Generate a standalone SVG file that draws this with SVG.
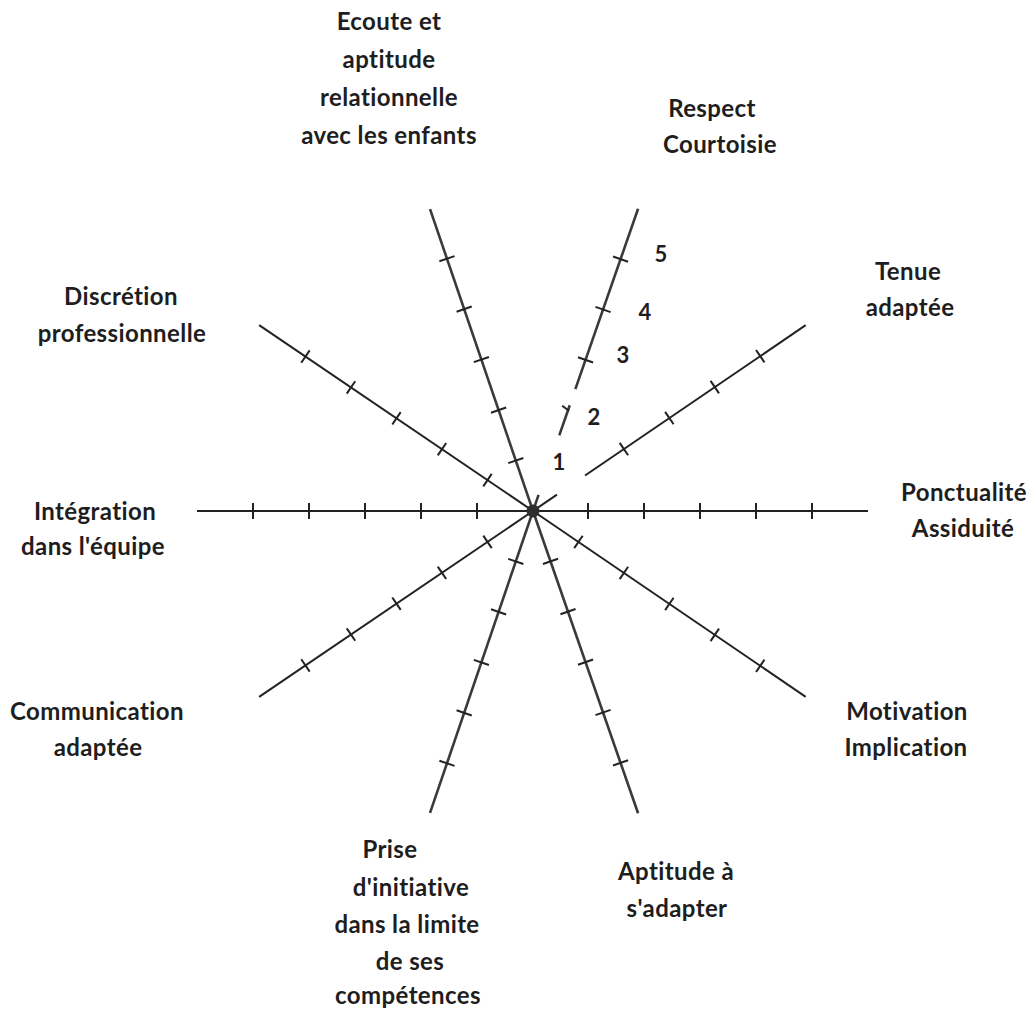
<svg xmlns="http://www.w3.org/2000/svg" width="1029" height="1009" viewBox="0 0 1029 1009">
<style>
  .lbl { font-family: Lato, "Liberation Sans", sans-serif; font-weight: 700; font-size: 24px; letter-spacing: 0.4px; fill: #1e1e1e; text-anchor: middle; }
  .num { font-family: Lato, "Liberation Sans", sans-serif; font-weight: 700; font-size: 22px; fill: #1e1e1e; text-anchor: middle; }
  .ax { stroke: #222; stroke-width: 2; fill: none; stroke-linecap: butt; }
  .st { stroke: #3a3a3a; stroke-width: 2.6; fill: none; }
  .tk { stroke: #222; stroke-width: 2; }
</style>
<rect width="1029" height="1009" fill="#ffffff"/>
<g id="connectors">
  <g id="axis-ponctualite" transform="translate(533,511)">
    <line class="ax" x1="0" y1="0" x2="335" y2="0"/>
    <line class="tk" x1="55" y1="-8" x2="55" y2="8"/>
    <line class="tk" x1="111" y1="-8" x2="111" y2="8"/>
    <line class="tk" x1="167" y1="-8" x2="167" y2="8"/>
    <line class="tk" x1="223" y1="-8" x2="223" y2="8"/>
    <line class="tk" x1="279" y1="-8" x2="279" y2="8"/>
  </g>
  <g id="axis-integration" transform="translate(533,511) rotate(180)">
    <line class="ax" x1="0" y1="0" x2="336" y2="0"/>
    <line class="tk" x1="56" y1="-8" x2="56" y2="8"/>
    <line class="tk" x1="112" y1="-8" x2="112" y2="8"/>
    <line class="tk" x1="168" y1="-8" x2="168" y2="8"/>
    <line class="tk" x1="224" y1="-8" x2="224" y2="8"/>
    <line class="tk" x1="280" y1="-8" x2="280" y2="8"/>
  </g>
  <g id="axis-discretion" transform="translate(533,511) rotate(214.17)">
    <line class="ax" x1="0" y1="0" x2="331" y2="0"/>
    <line class="tk" x1="55" y1="-7.5" x2="55" y2="7.5"/>
    <line class="tk" x1="110" y1="-7.5" x2="110" y2="7.5"/>
    <line class="tk" x1="165" y1="-7.5" x2="165" y2="7.5"/>
    <line class="tk" x1="220" y1="-7.5" x2="220" y2="7.5"/>
    <line class="tk" x1="275" y1="-7.5" x2="275" y2="7.5"/>
  </g>
  <g id="axis-communication" transform="translate(533,511) rotate(145.83)">
    <line class="ax" x1="0" y1="0" x2="331" y2="0"/>
    <line class="tk" x1="55" y1="-7.5" x2="55" y2="7.5"/>
    <line class="tk" x1="110" y1="-7.5" x2="110" y2="7.5"/>
    <line class="tk" x1="165" y1="-7.5" x2="165" y2="7.5"/>
    <line class="tk" x1="220" y1="-7.5" x2="220" y2="7.5"/>
    <line class="tk" x1="275" y1="-7.5" x2="275" y2="7.5"/>
  </g>
  <g id="axis-motivation" transform="translate(533,511) rotate(34.27)">
    <line class="ax" x1="0" y1="0" x2="330" y2="0"/>
    <line class="tk" x1="55" y1="-7.5" x2="55" y2="7.5"/>
    <line class="tk" x1="110" y1="-7.5" x2="110" y2="7.5"/>
    <line class="tk" x1="165" y1="-7.5" x2="165" y2="7.5"/>
    <line class="tk" x1="220" y1="-7.5" x2="220" y2="7.5"/>
    <line class="tk" x1="275" y1="-7.5" x2="275" y2="7.5"/>
  </g>
  <g id="axis-tenue" transform="translate(533,511) rotate(-34.27)">
    <line class="ax" x1="0" y1="0" x2="29" y2="0"/>
    <line class="ax" x1="63" y1="0" x2="330" y2="0"/>
    <line class="tk" x1="110" y1="-7.5" x2="110" y2="7.5"/>
    <line class="tk" x1="165" y1="-7.5" x2="165" y2="7.5"/>
    <line class="tk" x1="220" y1="-7.5" x2="220" y2="7.5"/>
    <line class="tk" x1="275" y1="-7.5" x2="275" y2="7.5"/>
  </g>
  <g id="axis-ecoute" transform="translate(533,511) rotate(-108.83)">
    <line class="st" x1="0" y1="0" x2="319" y2="0"/>
    <line class="tk" x1="53.3" y1="-8" x2="53.3" y2="8"/>
    <line class="tk" x1="106.6" y1="-8" x2="106.6" y2="8"/>
    <line class="tk" x1="160" y1="-8" x2="160" y2="8"/>
    <line class="tk" x1="213.3" y1="-8" x2="213.3" y2="8"/>
    <line class="tk" x1="266.6" y1="-8" x2="266.6" y2="8"/>
  </g>
  <g id="axis-respect" transform="translate(533,511) rotate(-70.83)">
    <line class="st" x1="0" y1="0" x2="17" y2="0"/>
    <line class="st" x1="80" y1="0" x2="112" y2="0"/>
    <line class="st" x1="129" y1="0" x2="320" y2="0"/>
    <line class="tk" x1="109" y1="-7" x2="106.5" y2="1"/>
    <line class="tk" x1="160" y1="-8" x2="160" y2="8"/>
    <line class="tk" x1="213.3" y1="-8" x2="213.3" y2="8"/>
    <line class="tk" x1="266.6" y1="-8" x2="266.6" y2="8"/>
  </g>
  <g id="axis-prise" transform="translate(533,511) rotate(108.83)">
    <line class="st" x1="0" y1="0" x2="319" y2="0"/>
    <line class="tk" x1="53.3" y1="-8" x2="53.3" y2="8"/>
    <line class="tk" x1="106.6" y1="-8" x2="106.6" y2="8"/>
    <line class="tk" x1="160" y1="-8" x2="160" y2="8"/>
    <line class="tk" x1="213.3" y1="-8" x2="213.3" y2="8"/>
    <line class="tk" x1="266.6" y1="-8" x2="266.6" y2="8"/>
  </g>
  <g id="axis-aptitude" transform="translate(533,511) rotate(70.83)">
    <line class="st" x1="0" y1="0" x2="320" y2="0"/>
    <line class="tk" x1="53.3" y1="-8" x2="53.3" y2="8"/>
    <line class="tk" x1="106.6" y1="-8" x2="106.6" y2="8"/>
    <line class="tk" x1="160" y1="-8" x2="160" y2="8"/>
    <line class="tk" x1="213.3" y1="-8" x2="213.3" y2="8"/>
    <line class="tk" x1="266.6" y1="-8" x2="266.6" y2="8"/>
  </g>
  <circle id="center" cx="533" cy="511" r="6.5" fill="#2e2e2e"/>
</g>
<g id="scale">
  <text class="num" x="559" y="470">1</text>
  <text class="num" x="594" y="425">2</text>
  <text class="num" x="623" y="363">3</text>
  <text class="num" x="645" y="320">4</text>
  <text class="num" x="661" y="262">5</text>
</g>
<g id="node-ecoute">
  <text class="lbl" x="389" y="30">Ecoute et</text>
  <text class="lbl" x="389" y="68">aptitude</text>
  <text class="lbl" x="389" y="106">relationnelle</text>
  <text class="lbl" x="389" y="144">avec les enfants</text>
</g>
<g id="node-respect">
  <text class="lbl" x="712" y="117">Respect</text>
  <text class="lbl" x="720" y="153">Courtoisie</text>
</g>
<g id="node-tenue">
  <text class="lbl" x="908" y="280">Tenue</text>
  <text class="lbl" x="910" y="316">adaptée</text>
</g>
<g id="node-ponctualite">
  <text class="lbl" x="964" y="501">Ponctualité</text>
  <text class="lbl" x="963" y="537">Assiduité</text>
</g>
<g id="node-motivation">
  <text class="lbl" x="907" y="720">Motivation</text>
  <text class="lbl" x="906" y="756">Implication</text>
</g>
<g id="node-aptitude">
  <text class="lbl" x="676" y="880">Aptitude à</text>
  <text class="lbl" x="677" y="917">s'adapter</text>
</g>
<g id="node-prise">
  <text class="lbl" x="390" y="858">Prise</text>
  <text class="lbl" x="411" y="896">d'initiative</text>
  <text class="lbl" x="407" y="933">dans la limite</text>
  <text class="lbl" x="410" y="970">de ses</text>
  <text class="lbl" x="408" y="1004">compétences</text>
</g>
<g id="node-communication">
  <text class="lbl" x="97" y="720">Communication</text>
  <text class="lbl" x="98" y="756">adaptée</text>
</g>
<g id="node-integration">
  <text class="lbl" x="95" y="520">Intégration</text>
  <text class="lbl" x="93" y="555">dans l'équipe</text>
</g>
<g id="node-discretion">
  <text class="lbl" x="121" y="305">Discrétion</text>
  <text class="lbl" x="122" y="342">professionnelle</text>
</g>
</svg>
